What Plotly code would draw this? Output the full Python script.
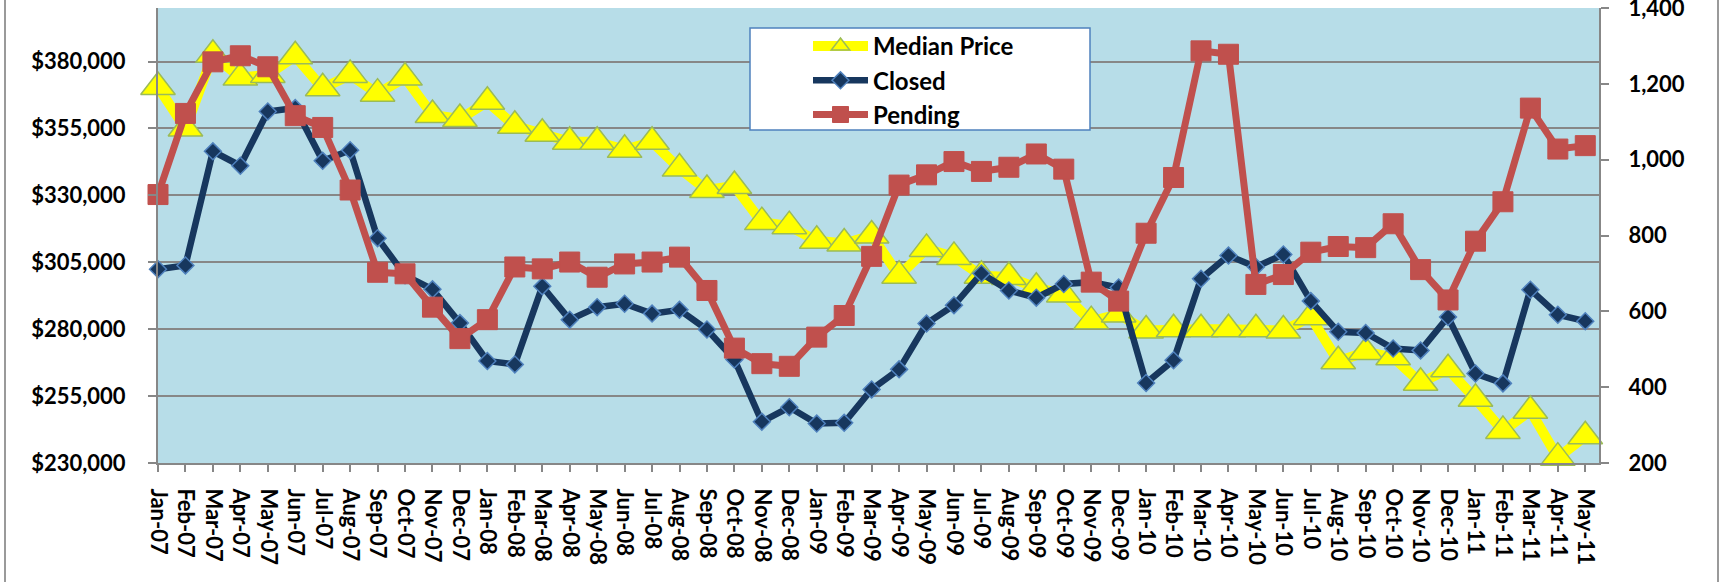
import plotly.graph_objects as go

months = [
    "Jan-07", "Feb-07", "Mar-07", "Apr-07", "May-07", "Jun-07", "Jul-07", "Aug-07", "Sep-07", "Oct-07", "Nov-07", "Dec-07",
    "Jan-08", "Feb-08", "Mar-08", "Apr-08", "May-08", "Jun-08", "Jul-08", "Aug-08", "Sep-08", "Oct-08", "Nov-08", "Dec-08",
    "Jan-09", "Feb-09", "Mar-09", "Apr-09", "May-09", "Jun-09", "Jul-09", "Aug-09", "Sep-09", "Oct-09", "Nov-09", "Dec-09",
    "Jan-10", "Feb-10", "Mar-10", "Apr-10", "May-10", "Jun-10", "Jul-10", "Aug-10", "Sep-10", "Oct-10", "Nov-10", "Dec-10",
    "Jan-11", "Feb-11", "Mar-11", "Apr-11", "May-11",
]

median_price = [
    370500, 355000, 382500, 374000, 375000, 382000, 370000, 375000, 368000, 374000, 360000, 358500,
    365000, 356000, 353000, 350000, 350000, 347000, 350000, 340000, 332000, 333500, 320000, 318500,
    313000, 312000, 315000, 300000, 310000, 307000, 300000, 299500, 295500, 293000, 283000, 285500,
    279500, 280000, 280000, 280000, 280000, 279500, 284500, 268000, 271500, 269500, 260000, 265000,
    254000, 242000, 249500, 232000, 240000,
]

closed = [
    711, 721, 1022, 984, 1127, 1136, 997, 1025, 793, 695, 658, 569,
    469, 460, 666, 578, 611, 620, 594, 604, 552, 473, 309, 347,
    304, 306, 394, 447, 568, 616, 700, 655, 636, 672, 677, 663,
    411, 471, 686, 747, 717, 750, 627, 546, 543, 502, 497, 585,
    436, 410, 657, 591, 574,
]

pending = [
    908, 1122, 1258, 1274, 1245, 1116, 1085, 920, 703, 699, 611, 528,
    578, 717, 712, 730, 690, 725, 730, 743, 655, 503, 462, 455,
    532, 589, 745, 933, 960, 995, 969, 980, 1015, 975, 677, 627,
    806, 953, 1287, 1278, 671, 697, 756, 771, 768, 831, 710, 630,
    785, 889, 1136, 1028, 1037,
]

price_ticks = [230000, 255000, 280000, 305000, 330000, 355000, 380000]
count_ticks = [200, 400, 600, 800, 1000, 1200, 1400]

FAMILY = "Lato, 'Open Sans', sans-serif"
FONT = dict(family=FAMILY, size=22, color="black", weight="bold")
LEGEND_FONT = dict(family=FAMILY, size=24, color="black", weight="bold")
GRID = "#878787"

W, H = 1734, 582
L, R, T, B = 158, 135, 8, 119
pw, ph = W - L - R, H - T - B


def px(x):
    return (x - L) / pw


def py(y):
    return (H - B - y) / ph


fig = go.Figure()

fig.add_trace(go.Scatter(
    x=months, y=median_price, name="Median Price", mode="lines+markers",
    line=dict(color="#FFFF00", width=10),
    marker=dict(symbol="triangle-up", size=30, color="#FFFF00",
                line=dict(color="#9BBB59", width=1.5)),
    cliponaxis=False, legendgroup="a",
))
fig.add_trace(go.Scatter(
    x=months, y=closed, name="Closed", mode="lines+markers", yaxis="y2",
    line=dict(color="#17375E", width=6.5),
    marker=dict(symbol="diamond", size=13, color="#17375E",
                line=dict(color="#4F81BD", width=1.5)),
    cliponaxis=False, legendgroup="b",
))
fig.add_trace(go.Scatter(
    x=months, y=pending, name="Pending", mode="lines+markers", yaxis="y2",
    line=dict(color="#C0504D", width=7),
    marker=dict(symbol="square", size=20, color="#C0504D",
                line=dict(color="#C0504D", width=1)),
    cliponaxis=False, legendgroup="c",
))

shapes = [
    # legend frame
    dict(type="rect", xref="paper", yref="paper",
         x0=px(750), x1=px(1090), y0=py(130), y1=py(28),
         fillcolor="white", line=dict(color="#4F81BD", width=1.5), layer="above"),
    # chart-area border
    dict(type="line", xref="paper", yref="paper", x0=px(5), x1=px(5), y0=py(582), y1=py(0),
         line=dict(color="#9A9A9A", width=2)),
    dict(type="line", xref="paper", yref="paper", x0=px(1718), x1=px(1718), y0=py(582), y1=py(0),
         line=dict(color="#9A9A9A", width=2)),
]

fig.update_layout(
    width=W, height=H, autosize=False,
    margin=dict(l=L, r=R, t=T, b=B, pad=0, autoexpand=False),
    plot_bgcolor="#B7DDE8", paper_bgcolor="white",
    font=FONT,
    showlegend=True,
    legend=dict(
        x=px(808), y=py(24), xanchor="left", yanchor="top",
        bgcolor="rgba(0,0,0,0)", borderwidth=0,
        font=LEGEND_FONT, itemwidth=55, tracegroupgap=0, traceorder="normal",
    ),
    xaxis=dict(
        type="category", range=[0, 52.5], tickmode="linear", tick0=0, dtick=1,
        tickangle=90, tickfont=FONT, ticks="outside", ticklen=7, tickwidth=1.5,
        tickcolor=GRID, showline=True, linecolor=GRID, linewidth=2,
        showgrid=False, zeroline=False, ticklabelstandoff=12, automargin=False,
    ),
    yaxis=dict(
        range=[230000, 400000], tickmode="array", tickvals=price_ticks,
        tickformat="$,.0f", tickfont=FONT, ticks="outside", ticklen=8, tickwidth=1.5,
        tickcolor=GRID, showline=True, linecolor=GRID, linewidth=2,
        showgrid=True, gridcolor=GRID, gridwidth=1.5, zeroline=False,
        ticklabelstandoff=18, ticklabeloverflow="allow", automargin=False,
    ),
    yaxis2=dict(
        overlaying="y", side="right", range=[200, 1400],
        tickmode="array", tickvals=count_ticks,
        tickformat=",", tickfont=FONT, ticks="outside", ticklen=8, tickwidth=1.5,
        tickcolor=GRID, showline=True, linecolor=GRID, linewidth=2,
        showgrid=False, zeroline=False, ticklabelstandoff=15,
        ticklabeloverflow="allow", automargin=False,
    ),
    shapes=shapes,
)

fig.write_html("out.html")
